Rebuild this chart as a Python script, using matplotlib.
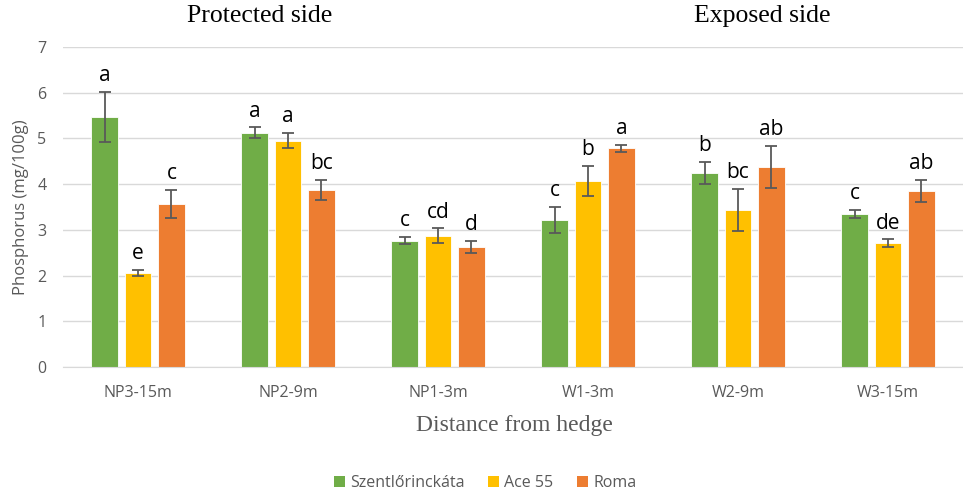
import matplotlib
matplotlib.use("Agg")
import matplotlib.pyplot as plt
import numpy as np
from matplotlib.patches import Patch

categories = ["NP3-15m", "NP2-9m", "NP1-3m", "W1-3m", "W2-9m", "W3-15m"]
series_names = ["Szentlőrinckáta", "Ace 55", "Roma"]
szent = [5.47, 5.12, 2.76, 3.22, 4.25, 3.35]
szent_err = [0.54, 0.12, 0.08, 0.28, 0.24, 0.08]
ace = [2.06, 4.95, 2.87, 4.07, 3.44, 2.71]
ace_err = [0.07, 0.17, 0.16, 0.33, 0.46, 0.08]
roma = [3.57, 3.88, 2.63, 4.78, 4.37, 3.86]
roma_err = [0.31, 0.22, 0.13, 0.08, 0.46, 0.24]
szent_letters = ["a", "a", "c", "c", "b", "c"]
ace_letters = ["e", "a", "cd", "b", "bc", "de"]
roma_letters = ["c", "bc", "d", "a", "ab", "ab"]

colors = ["#70AD47", "#FFC000", "#ED7D31"]
font = ["Open Sans", "DejaVu Sans"]
plt.rcParams['font.family'] = font

fig = plt.figure(figsize=(9.63, 4.94), dpi=100)
ax = fig.add_axes([63/963, 1-367/494, 900/963, 320/494])

x = np.arange(len(categories))
slot = 0.223
width = 0.175
vals = [szent, ace, roma]
errs = [szent_err, ace_err, roma_err]
letters = [szent_letters, ace_letters, roma_letters]
for i in range(3):
    xs = x + (i - 1) * slot
    ax.bar(xs, vals[i], width, color=colors[i], edgecolor="#FFFFFF", linewidth=0.6,
           zorder=2, label=series_names[i])
    ax.errorbar(xs, vals[i], yerr=errs[i], fmt="none", ecolor="#595959",
                elinewidth=1.3, capsize=4.5, capthick=1.3, zorder=3)
    for xi, v, e, l in zip(xs, vals[i], errs[i], letters[i]):
        ax.text(xi, v + e + 0.36, l, ha="center", va="center", fontsize=15,
                color="black", family=["Open Sans", "DejaVu Sans"])

ax.set_xlim(-0.5, 5.5)
ax.set_ylim(0, 7)
ax.set_yticks(range(0, 8))
ax.yaxis.grid(True, color="#D9D9D9", linewidth=1.0, zorder=0)
ax.set_axisbelow(True)
for s in ["top", "right", "left"]:
    ax.spines[s].set_visible(False)
ax.spines["bottom"].set_color("#D9D9D9")
ax.tick_params(axis="both", length=0, colors="#595959", labelsize=11.5)
ax.tick_params(axis="y", pad=12)
ax.tick_params(axis="x", pad=13)
ax.set_xticks(x)
ax.set_xticklabels(categories)
ax.set_ylabel("Phosphorus (mg/100g)", fontsize=12, color="#595959", labelpad=6)

fig.text(260/963, 1-16/494, "Protected side", ha="center", va="center",
         fontsize=18.5, family="Liberation Serif", color="black")
fig.text(762/963, 1-16/494, "Exposed side", ha="center", va="center",
         fontsize=18.5, family="Liberation Serif", color="black")
fig.text(514/963, 1-425/494, "Distance from hedge", ha="center", va="center",
         fontsize=17, family="Liberation Serif", color="#595959")

handles = [Patch(facecolor=c) for c in colors]
leg = fig.legend(handles, series_names, loc="center", bbox_to_anchor=(485/963, 1-483/494),
                 ncol=3, frameon=False, fontsize=11.5, handlelength=0.7, handleheight=0.7,
                 handletextpad=0.3, columnspacing=1.5)
for t in leg.get_texts():
    t.set_color("#595959")

fig.savefig("out.png", dpi=100)
